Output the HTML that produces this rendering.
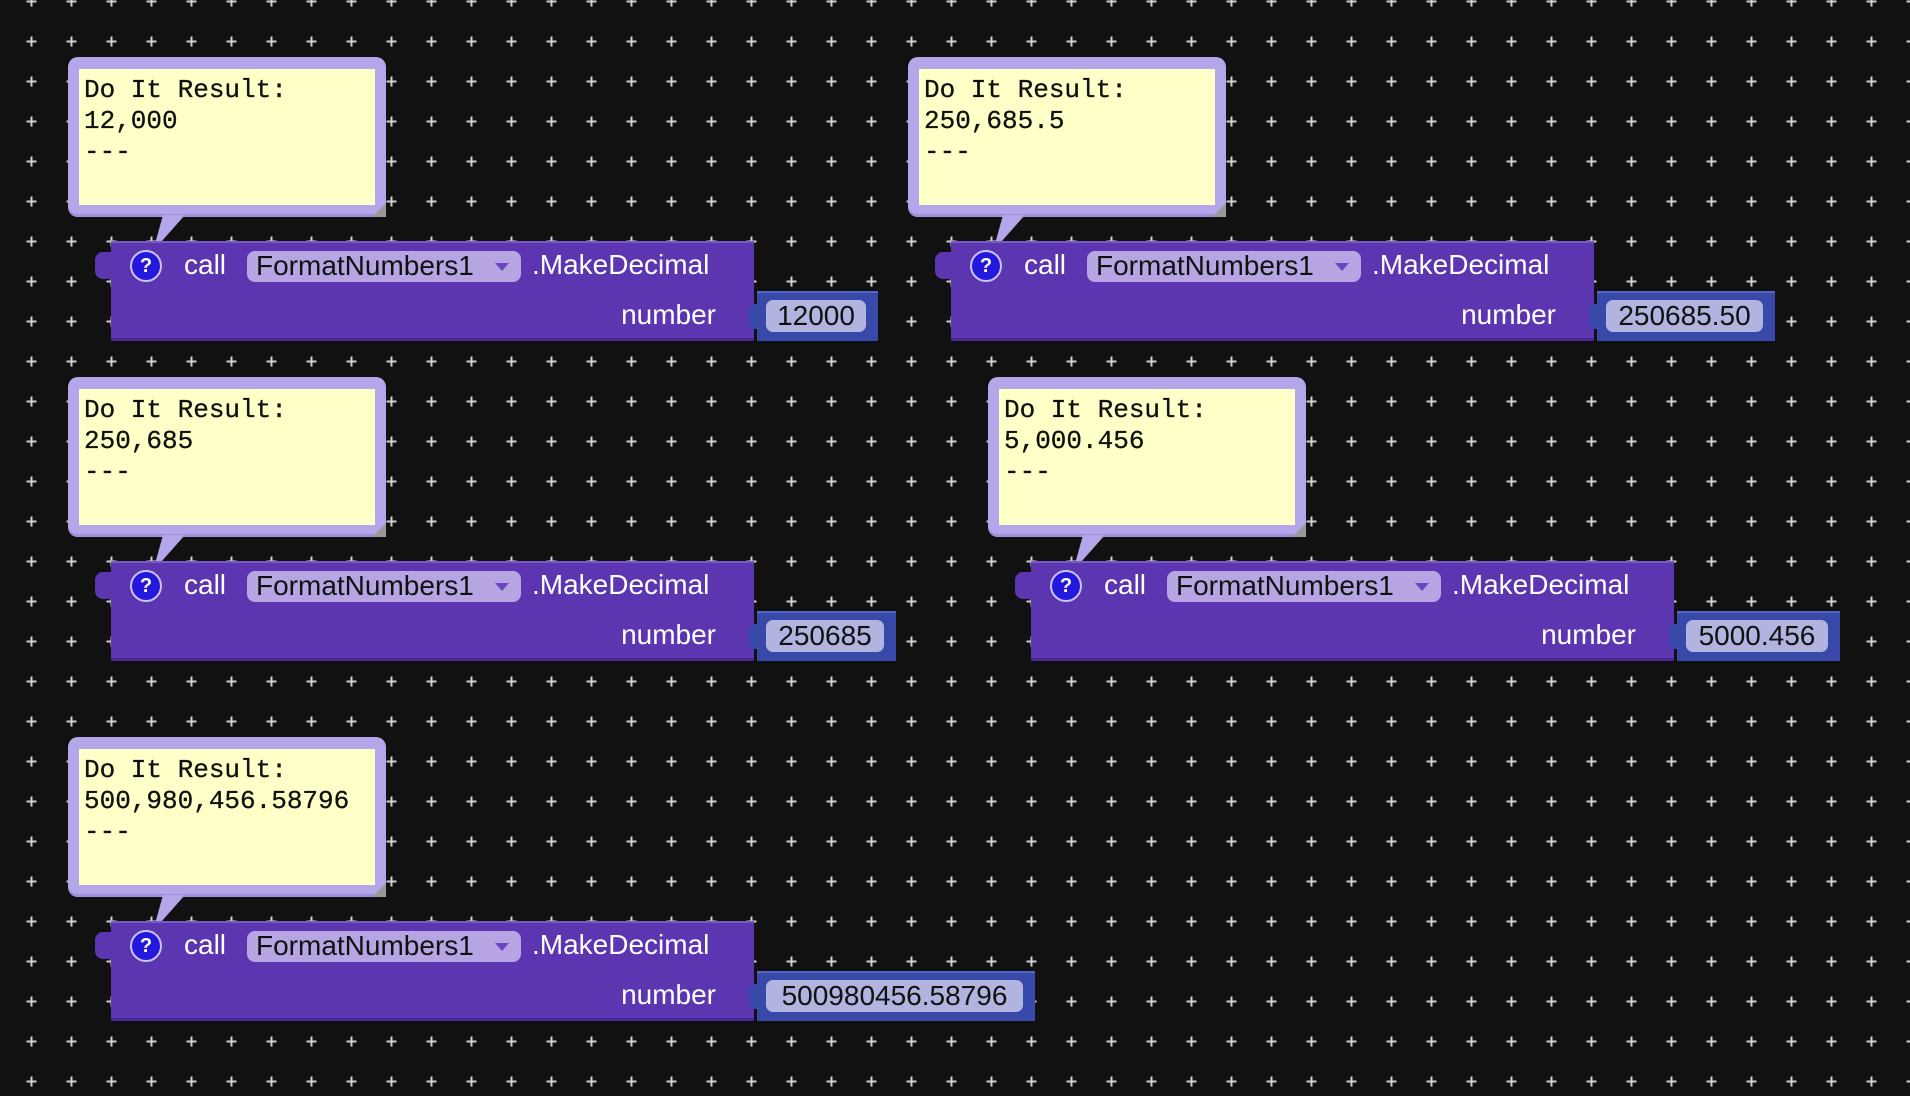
<!DOCTYPE html>
<html><head><meta charset="utf-8">
<style>
html,body{margin:0;padding:0;}
body{width:1910px;height:1096px;background:#111;position:relative;overflow:hidden;font-family:"Liberation Sans",Arial,sans-serif;}
#grid{position:absolute;left:0;top:0;}
.blk{position:absolute;width:0;height:0;}
.bub{position:absolute;left:-43px;top:-184px;width:318px;height:160px;background:#b4a6e8;border-radius:10px;box-shadow:inset 0 -3px 0 #9f90db;}
.yel{position:absolute;left:11px;top:12px;width:296px;height:136px;background:#ffffc8;font-family:"Liberation Mono",monospace;font-size:26px;letter-spacing:0px;line-height:31px;color:#111;padding:6px 0 0 5px;box-sizing:border-box;white-space:pre;-webkit-text-stroke:0.3px #111;}
.corner{position:absolute;right:0;bottom:0;width:0;height:0;border-left:14px solid transparent;border-bottom:14px solid #999;}
.tail{position:absolute;left:0;top:-30px;}
.main{position:absolute;left:0;top:0;width:643px;height:100px;background:#5c35b0;border-top:2px solid #7a58c6;border-bottom:3px solid #4a2897;box-sizing:border-box;}
.notch{position:absolute;left:-16px;top:11px;width:16px;height:27px;background:#5c35b0;border-radius:8px 0 0 8px;}
.help{position:absolute;left:19px;top:9px;width:28px;height:28px;border-radius:50%;background:#2418dc;border:2px solid #c9c3f5;color:#fff;font-weight:bold;font-size:20px;text-align:center;line-height:28px;}
.t{position:absolute;color:#fff;font-size:28px;line-height:32px;white-space:nowrap;}
.dd{position:absolute;left:136px;top:10px;width:274px;height:31px;background:#b6a5e2;border-radius:8px;}
.dd span{position:absolute;left:9px;top:-1px;color:#111;font-size:28px;line-height:32px;white-space:nowrap;}
.dd i{position:absolute;right:12px;top:12px;width:0;height:0;border-left:7px solid transparent;border-right:7px solid transparent;border-top:8px solid #6a47c0;}
.val{position:absolute;left:646px;top:50px;height:50px;background:#3949aa;border-top:2px solid #5365c4;box-sizing:border-box;}
.vn{position:absolute;left:-8px;top:11px;width:10px;height:25px;background:#3949aa;border-radius:6px 0 0 6px;}
.pill{position:absolute;left:9px;top:7px;height:32px;background:#b0b4df;border-radius:7px;color:#111;font-size:28px;line-height:32px;text-align:center;}
</style></head><body>
<svg id="grid" width="1910" height="1096">
<defs><pattern id="p" x="31.5" y="1.5" width="40" height="40" patternUnits="userSpaceOnUse">
<path d="M-5 0H5M0 -5V5M35 0H45M40 -5V5M-5 40H5M0 35V45M35 40H45M40 35V45" stroke="#d0d0d0" stroke-width="2"/>
</pattern></defs>
<rect x="0" y="0" width="1910" height="1096" fill="url(#p)"/>
</svg>

<div class="blk" style="left:111px;top:241px">
 <div class="bub"><div class="yel">Do It Result:
12,000
---</div><div class="corner"></div></div>
 <svg class="tail" width="80" height="60" style="left:-10px;top:-26px;overflow:visible"><polygon points="62,0 84,0 52,36" fill="#b4a6e8"/></svg>
 <div class="main"></div><div class="notch"></div>
 <div class="help">?</div>
 <div class="t" style="left:73px;top:8px">call</div>
 <div class="dd"><span>FormatNumbers1</span><i></i></div>
 <div class="t" style="left:421px;top:8px">.MakeDecimal</div>
 <div class="t" style="right:-605px;top:58px">number</div>
 <div class="val" style="width:121px"><div class="vn"></div><div class="pill" style="width:100px">12000</div></div>
</div>

<div class="blk" style="left:951px;top:241px">
 <div class="bub"><div class="yel">Do It Result:
250,685.5
---</div><div class="corner"></div></div>
 <svg class="tail" width="80" height="60" style="left:-10px;top:-26px;overflow:visible"><polygon points="62,0 84,0 52,36" fill="#b4a6e8"/></svg>
 <div class="main"></div><div class="notch"></div>
 <div class="help">?</div>
 <div class="t" style="left:73px;top:8px">call</div>
 <div class="dd"><span>FormatNumbers1</span><i></i></div>
 <div class="t" style="left:421px;top:8px">.MakeDecimal</div>
 <div class="t" style="right:-605px;top:58px">number</div>
 <div class="val" style="width:178px"><div class="vn"></div><div class="pill" style="width:157px">250685.50</div></div>
</div>

<div class="blk" style="left:111px;top:561px">
 <div class="bub"><div class="yel">Do It Result:
250,685
---</div><div class="corner"></div></div>
 <svg class="tail" width="80" height="60" style="left:-10px;top:-26px;overflow:visible"><polygon points="62,0 84,0 52,36" fill="#b4a6e8"/></svg>
 <div class="main"></div><div class="notch"></div>
 <div class="help">?</div>
 <div class="t" style="left:73px;top:8px">call</div>
 <div class="dd"><span>FormatNumbers1</span><i></i></div>
 <div class="t" style="left:421px;top:8px">.MakeDecimal</div>
 <div class="t" style="right:-605px;top:58px">number</div>
 <div class="val" style="width:139px"><div class="vn"></div><div class="pill" style="width:118px">250685</div></div>
</div>

<div class="blk" style="left:1031px;top:561px">
 <div class="bub"><div class="yel">Do It Result:
5,000.456
---</div><div class="corner"></div></div>
 <svg class="tail" width="80" height="60" style="left:-10px;top:-26px;overflow:visible"><polygon points="62,0 84,0 52,36" fill="#b4a6e8"/></svg>
 <div class="main"></div><div class="notch"></div>
 <div class="help">?</div>
 <div class="t" style="left:73px;top:8px">call</div>
 <div class="dd"><span>FormatNumbers1</span><i></i></div>
 <div class="t" style="left:421px;top:8px">.MakeDecimal</div>
 <div class="t" style="right:-605px;top:58px">number</div>
 <div class="val" style="width:163px"><div class="vn"></div><div class="pill" style="width:142px">5000.456</div></div>
</div>

<div class="blk" style="left:111px;top:921px">
 <div class="bub"><div class="yel">Do It Result:
500,980,456.58796
---</div><div class="corner"></div></div>
 <svg class="tail" width="80" height="60" style="left:-10px;top:-26px;overflow:visible"><polygon points="62,0 84,0 52,36" fill="#b4a6e8"/></svg>
 <div class="main"></div><div class="notch"></div>
 <div class="help">?</div>
 <div class="t" style="left:73px;top:8px">call</div>
 <div class="dd"><span>FormatNumbers1</span><i></i></div>
 <div class="t" style="left:421px;top:8px">.MakeDecimal</div>
 <div class="t" style="right:-605px;top:58px">number</div>
 <div class="val" style="width:278px"><div class="vn"></div><div class="pill" style="width:257px">500980456.58796</div></div>
</div>
</body></html>
